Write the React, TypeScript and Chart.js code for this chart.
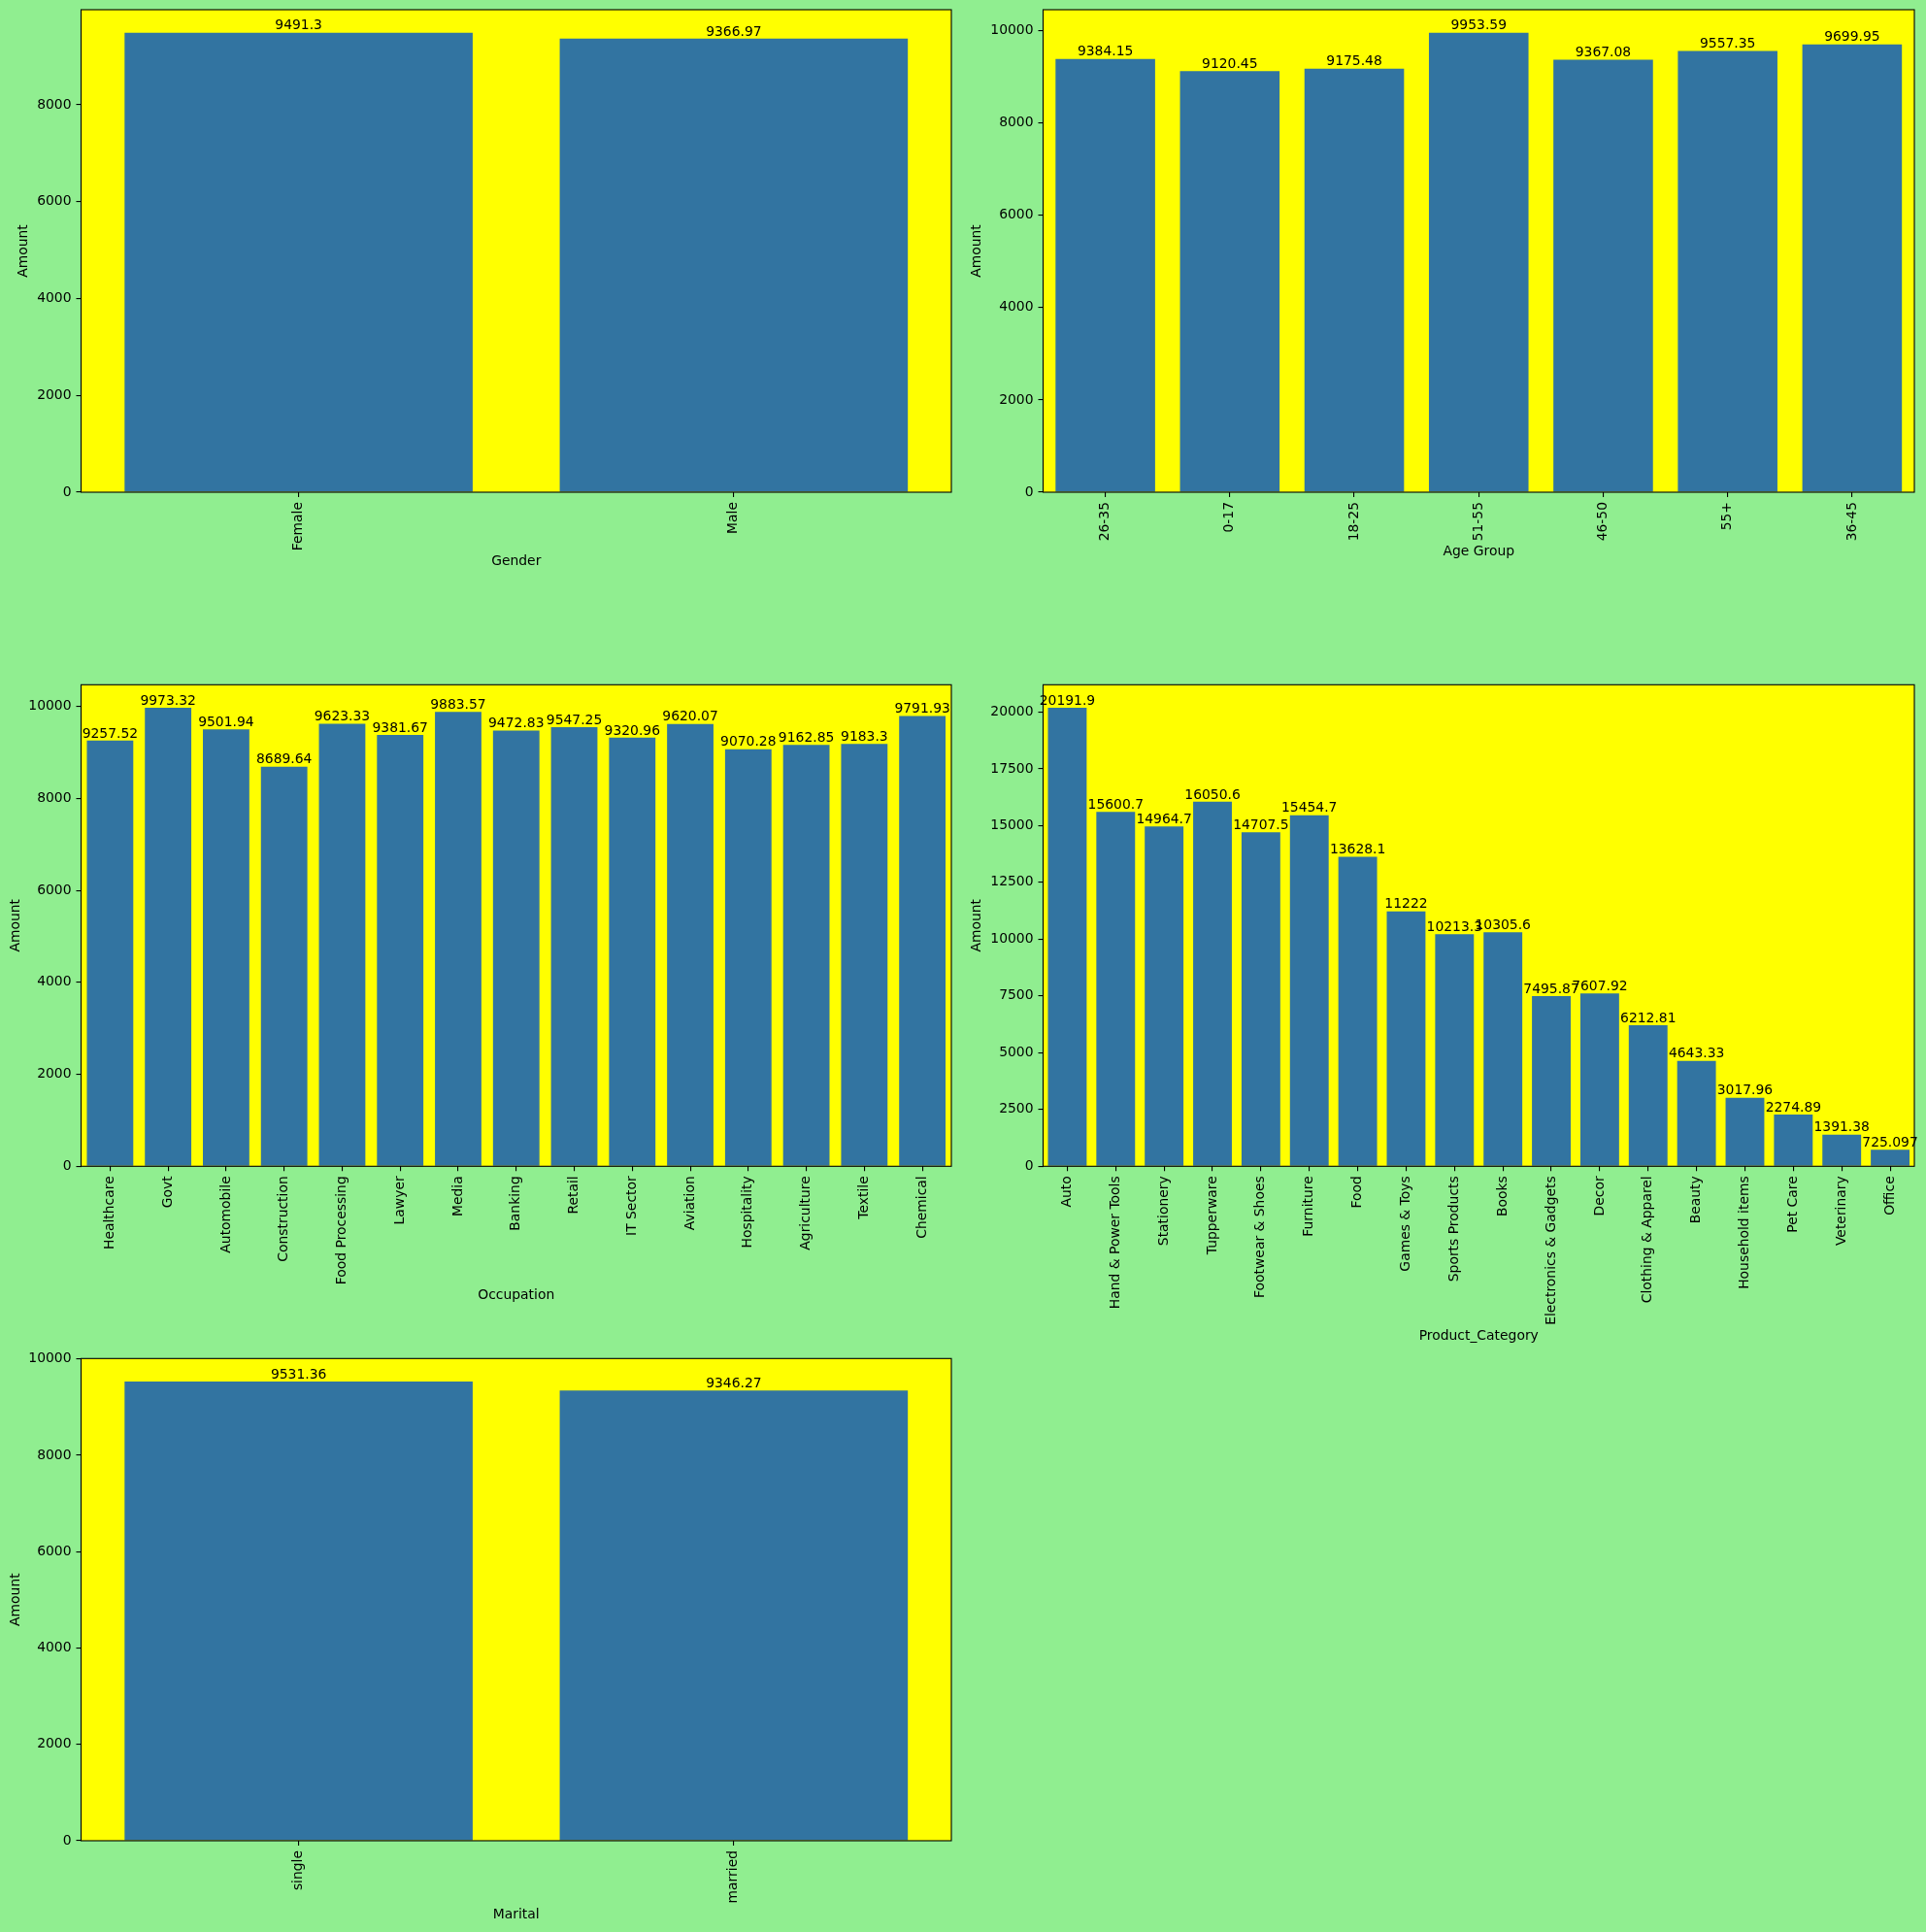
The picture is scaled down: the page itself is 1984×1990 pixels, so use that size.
import React, { useEffect, useRef } from "react";
import { Chart, registerables } from "chart.js";

Chart.register(...registerables);

// ---------- DATA ----------
const genderCategories = ["Female", "Male"];
const genderValues = [9491.3, 9366.97];
const genderTicks = [0, 2000, 4000, 6000, 8000];

const ageCategories = ["26-35", "0-17", "18-25", "51-55", "46-50", "55+", "36-45"];
const ageValues = [9384.15, 9120.45, 9175.48, 9953.59, 9367.08, 9557.35, 9699.95];
const ageTicks = [0, 2000, 4000, 6000, 8000, 10000];

const occupationCategories = [
  "Healthcare", "Govt", "Automobile", "Construction", "Food Processing", "Lawyer", "Media",
  "Banking", "Retail", "IT Sector", "Aviation", "Hospitality", "Agriculture", "Textile", "Chemical",
];
const occupationValues = [
  9257.52, 9973.32, 9501.94, 8689.64, 9623.33, 9381.67, 9883.57,
  9472.83, 9547.25, 9320.96, 9620.07, 9070.28, 9162.85, 9183.3, 9791.93,
];
const occupationTicks = [0, 2000, 4000, 6000, 8000, 10000];

const productCategories = [
  "Auto", "Hand & Power Tools", "Stationery", "Tupperware", "Footwear & Shoes", "Furniture",
  "Food", "Games & Toys", "Sports Products", "Books", "Electronics & Gadgets", "Decor",
  "Clothing & Apparel", "Beauty", "Household items", "Pet Care", "Veterinary", "Office",
];
const productValues = [
  20191.9, 15600.7, 14964.7, 16050.6, 14707.5, 15454.7,
  13628.1, 11222, 10213.3, 10305.6, 7495.87, 7607.92,
  6212.81, 4643.33, 3017.96, 2274.89, 1391.38, 725.097,
];
const productTicks = [0, 2500, 5000, 7500, 10000, 12500, 15000, 17500, 20000];

const maritalCategories = ["single", "married"];
const maritalValues = [9531.36, 9346.27];
const maritalTicks = [0, 2000, 4000, 6000, 8000, 10000];

// ---------- STYLE ----------
const FONT = "'DejaVu Sans', sans-serif";
const FS = 13.9;
const LH = FS * 1.2;
const BAR = "#3274a1";
const PLOT_BG = "#ffff00";
const FIG_BG = "#90ee90";

type Panel = {
  categories: string[];
  values: number[];
  ticks: number[];
  xTitle: string;
  l: number; r: number; t: number; b: number;
  yTitleX: number; xTitleY: number;
};

const panels: Panel[] = [
  { categories: genderCategories, values: genderValues, ticks: genderTicks, xTitle: "Gender",
    l: 83.5, r: 980, t: 10, b: 507, yTitleX: 24, xTitleY: 578.3 },
  { categories: ageCategories, values: ageValues, ticks: ageTicks, xTitle: "Age Group",
    l: 1074.5, r: 1972, t: 10, b: 507, yTitleX: 1006.7, xTitleY: 568.3 },
  { categories: occupationCategories, values: occupationValues, ticks: occupationTicks, xTitle: "Occupation",
    l: 83.5, r: 980, t: 705.3, b: 1201.3, yTitleX: 16.5, xTitleY: 1334.3 },
  { categories: productCategories, values: productValues, ticks: productTicks, xTitle: "Product_Category",
    l: 1074.5, r: 1972, t: 705.3, b: 1201.3, yTitleX: 1006.7, xTitleY: 1376.7 },
  { categories: maritalCategories, values: maritalValues, ticks: maritalTicks, xTitle: "Marital",
    l: 83.5, r: 980, t: 1399.3, b: 1896, yTitleX: 16.5, xTitleY: 1972.3 },
];

function fmtG(v: number): string {
  return parseFloat(v.toPrecision(6)).toString();
}

const framePlugin = {
  id: "frameAndLabels",
  beforeDraw(chart: any) {
    const { ctx, chartArea: a } = chart;
    ctx.save();
    ctx.fillStyle = PLOT_BG;
    ctx.fillRect(a.left, a.top, a.right - a.left, a.bottom - a.top);
    ctx.restore();
  },
  afterDatasetsDraw(chart: any) {
    const { ctx, chartArea: a } = chart;
    ctx.save();
    ctx.strokeStyle = "#000";
    ctx.lineWidth = 1.1;
    ctx.strokeRect(a.left, a.top, a.right - a.left, a.bottom - a.top);
    const meta = chart.getDatasetMeta(0);
    const data = chart.data.datasets[0].data as number[];
    ctx.fillStyle = "#000";
    ctx.font = `${FS}px ${FONT}`;
    ctx.textAlign = "center";
    ctx.textBaseline = "alphabetic";
    meta.data.forEach((el: any, i: number) => {
      ctx.fillText(fmtG(data[i]), el.x, el.y - FS * 0.236);
    });
    ctx.restore();
  },
};

function BarPanel({ p }: { p: Panel }) {
  const ref = useRef<HTMLCanvasElement>(null);
  const canvasLeft = Math.floor(p.yTitleX - LH / 2 - 2);
  const canvasTop = Math.floor(p.t - 24);
  const canvasRight = Math.min(1984, Math.ceil(p.r + 12));
  const canvasBottom = Math.ceil(p.xTitleY + LH / 2 + 3);
  const W = canvasRight - canvasLeft;
  const H = canvasBottom - canvasTop;
  const yW = p.l - canvasLeft;
  const xH = canvasBottom - p.b;
  const padTop = p.t - canvasTop;
  const padRight = canvasRight - p.r;

  useEffect(() => {
    const font = { family: FONT, size: FS };
    const gridOpts = {
      display: true,
      drawOnChartArea: false,
      drawTicks: true,
      tickLength: 5,
      offset: false,
      color: "#000",
      lineWidth: 1.1,
    };
    const chart = new Chart(ref.current as HTMLCanvasElement, {
      type: "bar",
      data: {
        labels: p.categories,
        datasets: [
          {
            data: p.values,
            backgroundColor: BAR,
            borderWidth: 0,
            categoryPercentage: 0.8,
            barPercentage: 1.0,
          },
        ],
      },
      options: {
        animation: false,
        responsive: false,
        devicePixelRatio: 1,
        layout: { padding: { top: padTop, right: padRight, left: 0, bottom: 0 } },
        plugins: {
          legend: { display: false },
          tooltip: { enabled: false },
          title: { display: false },
        },
        scales: {
          x: {
            grid: gridOpts as any,
            border: { display: false },
            ticks: {
              autoSkip: false,
              maxRotation: 90,
              minRotation: 90,
              padding: 5,
              color: "#000",
              font,
            },
            title: {
              display: true,
              text: p.xTitle,
              color: "#000",
              font,
              padding: { top: 0, bottom: canvasBottom - p.xTitleY - LH / 2 },
            },
            afterFit: (s: any) => {
              s.height = xH;
            },
          },
          y: {
            min: 0,
            max: Math.max(...p.values) * 1.05,
            grid: gridOpts as any,
            border: { display: false },
            ticks: {
              padding: 5,
              color: "#000",
              font,
              callback: (v: any) => String(v),
            },
            afterBuildTicks: (s: any) => {
              s.ticks = p.ticks.map((v) => ({ value: v }));
            },
            title: {
              display: true,
              text: "Amount",
              color: "#000",
              font,
              padding: { top: p.yTitleX - canvasLeft - LH / 2, bottom: 0 },
            },
            afterFit: (s: any) => {
              s.width = yW;
            },
          },
        },
      },
      plugins: [framePlugin],
    });
    return () => chart.destroy();
  }, []);

  return (
    <canvas
      ref={ref}
      width={W}
      height={H}
      style={{ position: "absolute", left: canvasLeft, top: canvasTop, width: W, height: H }}
    />
  );
}

export default function App() {
  useEffect(() => {
    document.body.style.margin = "0";
    document.body.style.background = FIG_BG;
  }, []);
  return (
    <div
      style={{
        position: "absolute",
        left: 0,
        top: 0,
        width: 1984,
        height: 1990,
        background: FIG_BG,
        overflow: "hidden",
      }}
    >
      {panels.map((p, i) => (
        <BarPanel key={i} p={p} />
      ))}
    </div>
  );
}
